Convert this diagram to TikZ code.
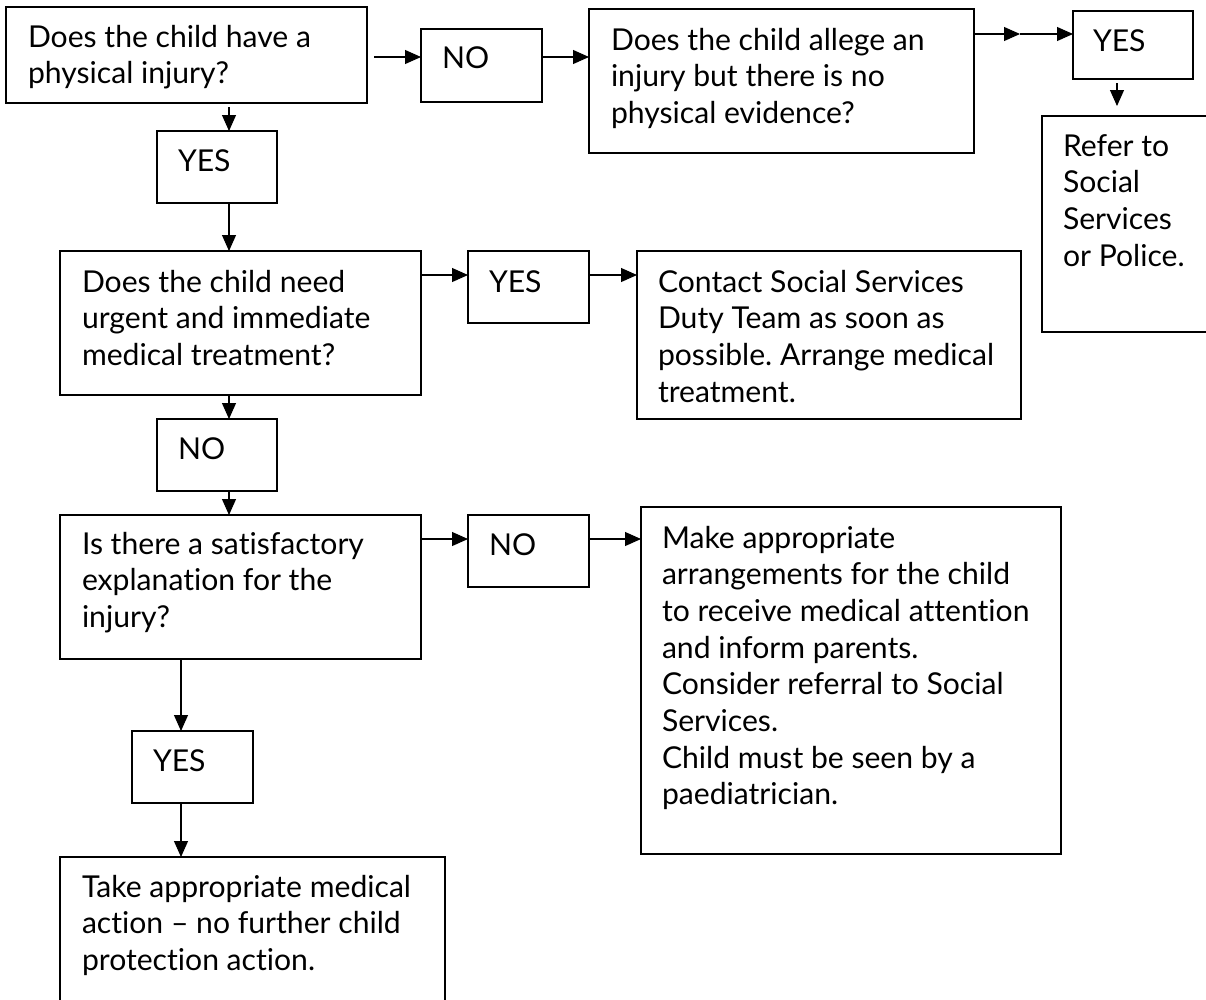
\documentclass[tikz,border=0pt]{standalone}
\usepackage{fontspec}
\setmainfont{Lato}[Ligatures={NoCommon,NoRequired,NoContextual}]
\usetikzlibrary{arrows.meta,calc}
\tikzset{
  box/.style={draw, line width=1.3pt, inner sep=0pt, outer sep=0pt, anchor=north west},
  txt/.style={anchor=base west, inner sep=0pt, outer sep=0pt},
  arr/.style={line width=1.1pt, -{Triangle[length=16pt,width=14pt]}},
}
\newlength\refw
\newcommand\ff{\fontsize{\fsz pt}{36.7pt}\selectfont}
\newcommand\tx[1]{\parbox[t]{420pt}{\raggedright\frenchspacing\ff #1}}
\begin{document}
\frenchspacing
\settowidth\refw{\fontsize{10pt}{12pt}\selectfont Take appropriate medical}
\pgfmathsetmacro\fsz{10*329/\refw}
\begin{tikzpicture}[x=1pt,y=-1pt]
\useasboundingbox (0,0) rectangle (1206,999);
\clip (0,0) rectangle (1206,999);
% boxes
\node[box, minimum width=361pt, minimum height=96pt]  (b1) at (6,7) {};
\node[box, minimum width=121pt, minimum height=73pt]  (n1) at (421,29) {};
\node[box, minimum width=385pt, minimum height=144pt] (al) at (589,9) {};
\node[box, minimum width=120pt, minimum height=68pt]  (y0) at (1073,11) {};
\node[box, minimum width=250pt, minimum height=216pt] (rf) at (1042,116) {};
\node[box, minimum width=120pt, minimum height=72pt]  (y1) at (157,131) {};
\node[box, minimum width=361pt, minimum height=144pt] (ur) at (60,251) {};
\node[box, minimum width=121pt, minimum height=72pt]  (y2) at (468,251) {};
\node[box, minimum width=384pt, minimum height=168pt] (ct) at (637,251) {};
\node[box, minimum width=120pt, minimum height=72pt]  (n2) at (157,419) {};
\node[box, minimum width=361pt, minimum height=144pt] (sa) at (60,515) {};
\node[box, minimum width=121pt, minimum height=72pt]  (n3) at (468,515) {};
\node[box, minimum width=420pt, minimum height=347pt] (mk) at (641,507) {};
\node[box, minimum width=121pt, minimum height=72pt]  (y3) at (132,731) {};
\node[box, minimum width=385pt, minimum height=220pt] (tk) at (60,857) {};
% texts
\node[txt] (tb1) at ($(b1.north west)+(22,40)$) {\tx{Does the child have a\\physical injury?}};
\node[txt] (tn1) at ($(n1.north west)+(21,39)$) {\tx{NO}};
\node[txt] (tal) at ($(al.north west)+(22,41)$) {\tx{Does the child allege an\\injury but there is no\\physical evidence?}};
\node[txt] (ty0) at ($(y0.north west)+(20,40)$) {\tx{YES}};
\node[txt] (trf) at ($(rf.north west)+(21,40)$) {\tx{Refer to\\Social\\Services\\or Police.}};
\node[txt] (ty1) at ($(y1.north west)+(21,40)$) {\tx{YES}};
\node[txt] (tur) at ($(ur.north west)+(22,41)$) {\tx{Does the child need\\urgent and immediate\\medical treatment?}};
\node[txt] (ty2) at ($(y2.north west)+(21,41)$) {\tx{YES}};
\node[txt] (tct) at ($(ct.north west)+(21,41)$) {\tx{Contact Social Services\\Duty Team as soon as\\possible. Arrange medical\\treatment.}};
\node[txt] (tn2) at ($(n2.north west)+(21,40)$) {\tx{NO}};
\node[txt] (tsa) at ($(sa.north west)+(22,39)$) {\tx{Is there a satisfactory\\explanation for the\\injury?}};
\node[txt] (tn3) at ($(n3.north west)+(21,40)$) {\tx{NO}};
\node[txt] (tmk) at ($(mk.north west)+(21,41)$) {\tx{Make appropriate\\arrangements for the child\\to receive medical attention\\and inform parents.\\Consider referral to Social\\Services.\\Child must be seen by a\\paediatrician.}};
\node[txt] (ty3) at ($(y3.north west)+(21,40)$) {\tx{YES}};
\node[txt] (ttk) at ($(tk.north west)+(22,40)$) {\tx{Take appropriate medical\\action -- no further child\\protection action.}};
% connectors
\draw[arr] ($(b1.east |- 0,57)+(7,0)$) -- (n1.west |- 0,57);
\draw[arr] (n1.east |- 0,57) -- (al.west |- 0,57);
\coordinate (mid) at (1020,34);
\draw[arr] (al.east |- mid) -- (mid);
\draw[arr] (mid) -- (y0.west |- mid);
\draw[arr] ($(y0.south -| 1117,0)+(0,4)$) -- ($(rf.north -| 1117,0)+(0,-10)$);
\draw[arr] ($(b1.south -| 229,0)+(0,4)$) -- (y1.north -| 229,0);
\draw[arr] (y1.south -| 229,0) -- (ur.north -| 229,0);
\draw[arr] (ur.east |- 0,275) -- (y2.west |- 0,275);
\draw[arr] (y2.east |- 0,275) -- (ct.west |- 0,275);
\draw[arr] (ur.south -| 229,0) -- (n2.north -| 229,0);
\draw[arr] (n2.south -| 229,0) -- (sa.north -| 229,0);
\draw[arr] (sa.east |- 0,539) -- (n3.west |- 0,539);
\draw[arr] (n3.east |- 0,539) -- (mk.west |- 0,539);
\draw[arr] (sa.south -| 181,0) -- (y3.north -| 181,0);
\draw[arr] (y3.south -| 181,0) -- (tk.north -| 181,0);
\end{tikzpicture}
\end{document}
